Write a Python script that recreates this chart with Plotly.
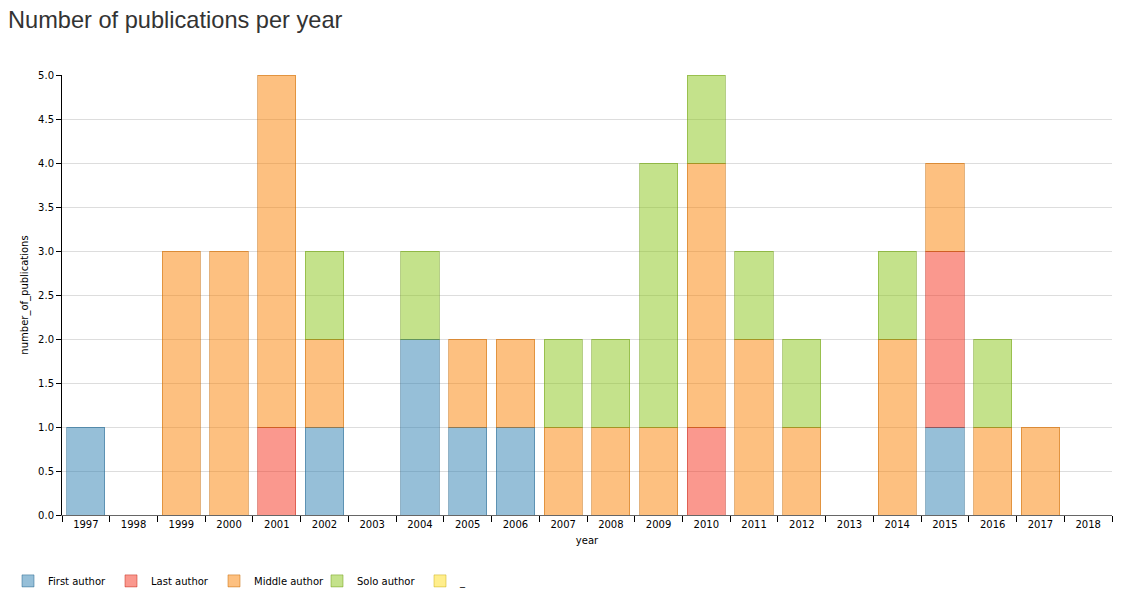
import plotly.graph_objects as go

years = [str(y) for y in range(1997, 2019)]
first_author  = [1, 0, 0, 0, 0, 1, 0, 2, 1, 1, 0, 0, 0, 0, 0, 0, 0, 0, 1, 0, 0, 0]
last_author   = [0, 0, 0, 0, 1, 0, 0, 0, 0, 0, 0, 0, 0, 1, 0, 0, 0, 0, 2, 0, 0, 0]
middle_author = [0, 0, 3, 3, 4, 1, 0, 0, 1, 1, 1, 1, 1, 3, 2, 1, 0, 2, 1, 1, 1, 0]
solo_author   = [0, 0, 0, 0, 0, 1, 0, 1, 0, 0, 1, 1, 3, 1, 1, 1, 0, 1, 0, 1, 0, 0]
underscore    = [0] * 22

series = [
    ("First author", first_author, (45, 127, 177)),
    ("Last author", last_author, (245, 49, 29)),
    ("Middle author", middle_author, (251, 129, 1)),
    ("Solo author", solo_author, (137, 197, 23)),
    ("_", underscore, (255, 221, 25)),
]

fig = go.Figure()
for name, vals, (r, g, b) in series:
    # zero-height segments are not drawn (avoids stray outline strokes)
    yvals = [v if v else None for v in vals]
    fig.add_trace(go.Bar(
        x=years, y=yvals, name=name,
        marker=dict(color=f"rgba({r},{g},{b},0.5)",
                    line=dict(color=f"rgba({int(r*0.8)},{int(g*0.8)},{int(b*0.8)},0.5)", width=1)),
    ))

font_family = "DejaVu Sans, Verdana, sans-serif"
fig.update_layout(
    barmode="stack",
    bargap=0.2,
    width=1131, height=603,
    paper_bgcolor="white", plot_bgcolor="white",
    margin=dict(l=54, r=27, t=67, b=96),
    title=dict(text="Number of publications per year", x=0, xanchor="left",
               y=0.98, yanchor="middle",
               font=dict(family="Liberation Sans, Arial, sans-serif", size=23.6, color="#333")),
    font=dict(family=font_family, size=10, color="#000"),
    legend=dict(orientation="h", xref="container", yref="container",
                x=0, xanchor="left", y=0.074, yanchor="top",
                entrywidth=58, entrywidthmode="pixels",
                font=dict(family=font_family, size=10, color="#000"),
                traceorder="normal"),
    xaxis=dict(
        type="category", tickson="boundaries", ticks="outside", ticklen=6,
        tickcolor="#000", showline=True, linecolor="#666", linewidth=1,
        showgrid=False, automargin=False, tickangle=0,
        title=dict(text="year", standoff=7, font=dict(size=10)),
        tickfont=dict(size=10),
    ),
    yaxis=dict(
        range=[0, 5], dtick=0.5, tickformat=".1f", ticks="outside", ticklen=5,
        tickcolor="#000", showline=True, linecolor="#000", linewidth=1,
        showgrid=True, gridcolor="#dddddd", zeroline=False, automargin=False,
        title=dict(text="number_of_publications", standoff=7, font=dict(size=10)),
        tickfont=dict(size=10),
    ),
)

fig.write_html("out.html")
